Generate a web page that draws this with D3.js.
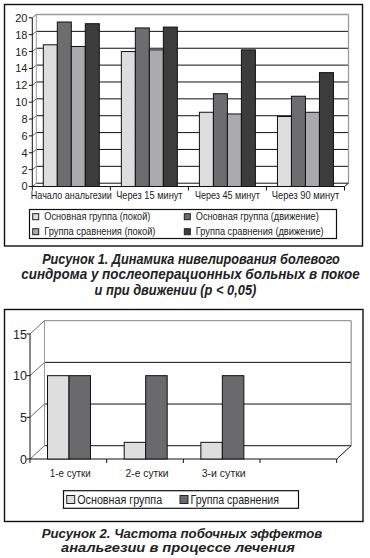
<!DOCTYPE html>
<html><head><meta charset="utf-8">
<script src="https://cdn.jsdelivr.net/npm/d3@7"></script>
<style>
html,body{margin:0;padding:0;background:#fff;}
svg{display:block;}
</style>
</head><body>
<script>
// ---------- Chart 1 data ----------
const categories1 = ["Начало анальгезии", "Через 15 минут", "Через 45 минут", "Через 90 минут"];
const seriesNames1 = ["Основная группа (покой)", "Основная группа (движение)", "Группа сравнения (покой)", "Группа сравнения (движение)"];
const mainRest = [16.8, 16.0, 8.8, 8.3];
const mainMove = [19.5, 18.8, 11.0, 10.7];
const compRest = [16.6, 16.2, 8.6, 8.8];
const compMove = [19.3, 18.9, 16.2, 13.5];
const ticks1 = [0, 2, 4, 6, 8, 10, 12, 14, 16, 18, 20];
const caption1 = ["Рисунок 1. Динамика нивелирования болевого", "синдрома у послеоперационных больных в покое", "и при движении (р < 0,05)"];

// ---------- Chart 2 data ----------
const categories2 = ["1-е сутки", "2-е сутки", "3-и сутки", ""];
const seriesNames2 = ["Основная группа", "Группа сравнения"];
const mainGroup = [10, 2, 2];
const compGroup = [10, 10, 10];
const ticks2 = [0, 5, 10, 15];
const caption2 = ["Рисунок 2. Частота побочных эффектов", "анальгезии в процессе лечения"];

// ---------- styles / layout (not data) ----------
const colors1 = ["#dddddd", "#6d6d70", "#aaaaac", "#3c3c3c"];
const colors2 = ["#dedede", "#6a6a6c"];
const style = {
  cat1W: [81, 66.5, 65, 67.5],
  leg1W: [106.5, 123, 111.5, 128],
  cap1W: [298, 339, 162],
  cap1X: [191, 190.5, 175.5],
  cat2W: [41, 43, 44],
  leg2W: [85, 88.5],
  cap2W: [281, 234],
  cap2X: [182, 178]
};

const W = 370, H = 558;
const FONT = "'Liberation Sans', Arial, sans-serif";

const svg = d3.select("body").append("svg").attr("width", W).attr("height", H);
svg.append("rect").attr("width", W).attr("height", H).attr("fill", "#fff");

// squeeze a text horizontally to a target width (emulates a condensed typeface)
function fit(sel, w) {
  const x = +sel.attr("x"), y = +sel.attr("y");
  const n = sel.node().getComputedTextLength();
  const s = n > 0 ? w / n : 1;
  sel.attr("x", 0).attr("y", 0).attr("transform", `translate(${x},${y}) scale(${s},1)`);
  return sel;
}

function plot3D(g, o) {
  const {xBand, y, dx, dy, ticks, yMax} = o;
  const xL = xBand.range()[0], xR = xBand.range()[1];
  const y0 = y(0), yT = y(yMax);
  ticks.forEach(t => {
    const isTop = t === yMax;
    g.append("line").attr("x1", xL + dx).attr("x2", xR + dx)
      .attr("y1", y(t) + dy).attr("y2", y(t) + dy)
      .attr("stroke", isTop ? "#9a9a9a" : "#111").attr("stroke-width", isTop ? 1.3 : 1);
    g.append("line").attr("x1", xL).attr("y1", y(t)).attr("x2", xL + dx).attr("y2", y(t) + dy)
      .attr("stroke", "#444").attr("stroke-width", 0.8);
  });
  g.append("line").attr("x1", xL + dx).attr("x2", xL + dx).attr("y1", yT + dy).attr("y2", y0 + dy)
    .attr("stroke", "#9a9a9a").attr("stroke-width", 1);
  g.append("line").attr("x1", xR + dx).attr("x2", xR + dx).attr("y1", yT + dy).attr("y2", y0 + dy)
    .attr("stroke", "#9a9a9a").attr("stroke-width", 1.3);
  g.append("line").attr("x1", xL).attr("x2", xR).attr("y1", y0).attr("y2", y0).attr("stroke", "#111");
  g.append("line").attr("x1", xR).attr("y1", y0).attr("x2", xR + dx).attr("y2", y0 + dy).attr("stroke", "#111");
  const bounds = xBand.domain().map(c => xBand(c)).concat([xR]);
  bounds.forEach(b => {
    g.append("line").attr("x1", b).attr("x2", b).attr("y1", y0).attr("y2", y0 + 4).attr("stroke", "#111");
  });
}

function frontAxis(g, y, ticks, x, yMax, labelX, size) {
  g.append("line").attr("x1", x).attr("x2", x).attr("y1", y(0)).attr("y2", y(yMax)).attr("stroke", "#111");
  ticks.forEach(t => {
    g.append("line").attr("x1", x - 3.5).attr("x2", x).attr("y1", y(t)).attr("y2", y(t)).attr("stroke", "#111");
    g.append("text").attr("x", labelX).attr("y", y(t)).attr("dy", "0.36em")
      .attr("text-anchor", "end").attr("font-family", FONT).attr("font-size", size)
      .attr("fill", "#222").text(t);
  });
}

// ================= Chart 1 =================
{
  svg.append("rect").attr("x", 4.5).attr("y", 4.5).attr("width", 358).attr("height", 241.5)
    .attr("fill", "none").attr("stroke", "#111").attr("stroke-width", 1.4);
  const g = svg.append("g");
  const y = d3.scaleLinear().domain([0, 20]).range([186.5, 17.8]);
  const xBand = d3.scaleBand().domain(categories1).range([32.3, 344.5]);
  const keys = [0, 1, 2, 3];
  const xInner = d3.scaleBand().domain(keys).range([11, 67]);
  const series = [mainRest, mainMove, compRest, compMove];
  plot3D(g, {xBand, y, dx: 4, dy: -3.3, ticks: ticks1, yMax: 20});
  categories1.forEach((c, i) => {
    keys.forEach(k => {
      const v = series[k][i];
      g.append("rect").attr("x", xBand(c) + xInner(k)).attr("y", y(v))
        .attr("width", xInner.bandwidth()).attr("height", y(0) - y(v))
        .attr("fill", colors1[k]).attr("stroke", "#111").attr("stroke-width", 1);
    });
    fit(g.append("text").attr("x", xBand(c) + xBand.bandwidth() / 2).attr("y", 199)
      .attr("text-anchor", "middle").attr("font-family", FONT).attr("font-size", 11.5)
      .attr("fill", "#1d1d1d").text(c), style.cat1W[i]);
  });
  frontAxis(g, y, ticks1, 32.3, 20, 27.5, 11);

  svg.append("rect").attr("x", 29.5).attr("y", 209.5).attr("width", 307).attr("height", 29)
    .attr("fill", "#fff").attr("stroke", "#111").attr("stroke-width", 1.2);
  const legPos = [[32.7, 216.7], [184.3, 216.7], [32.7, 231.7], [184.3, 231.7]];
  keys.forEach(k => {
    const [lx, ly] = legPos[k];
    svg.append("rect").attr("x", lx).attr("y", ly - 3).attr("width", 6).attr("height", 6)
      .attr("fill", colors1[k]).attr("stroke", "#222").attr("stroke-width", 1);
    fit(svg.append("text").attr("x", lx + 11.5).attr("y", ly + 3.7)
      .attr("font-family", FONT).attr("font-size", 10.5).attr("fill", "#222").text(seriesNames1[k]), style.leg1W[k]);
  });
  caption1.forEach((line, i) => {
    fit(svg.append("text").attr("x", style.cap1X[i]).attr("y", 258.3 + i * 15.9 + 5.2)
      .attr("text-anchor", "middle").attr("font-family", FONT).attr("font-size", 14.5)
      .attr("font-weight", "bold").attr("font-style", "italic").attr("fill", "#222").text(line), style.cap1W[i]);
  });
}

// ================= Chart 2 =================
{
  svg.append("rect").attr("x", 4.5).attr("y", 309.5).attr("width", 358.5).attr("height", 212)
    .attr("fill", "none").attr("stroke", "#111").attr("stroke-width", 1.4);
  const g = svg.append("g");
  const y = d3.scaleLinear().domain([0, 15]).range([459, 334]);
  const xBand = d3.scaleBand().domain(categories2.map((c, i) => i)).range([30, 336.7]);
  const keys = [0, 1];
  const xInner = d3.scaleBand().domain(keys).range([17.5, 60.5]);
  const series = [mainGroup, compGroup];
  plot3D(g, {xBand, y, dx: 14.5, dy: -13.3, ticks: ticks2, yMax: 15});
  categories2.forEach((c, i) => {
    keys.forEach(k => {
      const v = series[k][i];
      if (v === undefined) return;
      g.append("rect").attr("x", xBand(i) + xInner(k)).attr("y", y(v))
        .attr("width", xInner.bandwidth()).attr("height", y(0) - y(v))
        .attr("fill", colors2[k]).attr("stroke", "#111").attr("stroke-width", 1);
    });
    if (c) {
      fit(g.append("text").attr("x", xBand(i) + xBand.bandwidth() / 2 + 2).attr("y", 476.5)
        .attr("text-anchor", "middle").attr("font-family", FONT).attr("font-size", 11.5)
        .attr("fill", "#1d1d1d").text(c), style.cat2W[i]);
    }
  });
  frontAxis(g, y, ticks2, 30, 15, 27, 12.5);

  svg.append("rect").attr("x", 63.5).attr("y", 490.7).attr("width", 235).attr("height", 17.6)
    .attr("fill", "#fff").attr("stroke", "#111").attr("stroke-width", 1.2);
  const legX = [66.7, 180];
  keys.forEach(k => {
    svg.append("rect").attr("x", legX[k]).attr("y", 495.5).attr("width", 8).attr("height", 8)
      .attr("fill", colors2[k]).attr("stroke", "#222").attr("stroke-width", 1);
    fit(svg.append("text").attr("x", legX[k] + 10.5).attr("y", 499.5 + 4.3)
      .attr("font-family", FONT).attr("font-size", 12).attr("fill", "#222").text(seriesNames2[k]), style.leg2W[k]);
  });
  caption2.forEach((line, i) => {
    fit(svg.append("text").attr("x", style.cap2X[i]).attr("y", 533.3 + i * 14 + 4.9)
      .attr("text-anchor", "middle").attr("font-family", FONT).attr("font-size", 13.5)
      .attr("font-weight", "bold").attr("font-style", "italic").attr("fill", "#222").text(line), style.cap2W[i]);
  });
}
</script>
</body></html>
